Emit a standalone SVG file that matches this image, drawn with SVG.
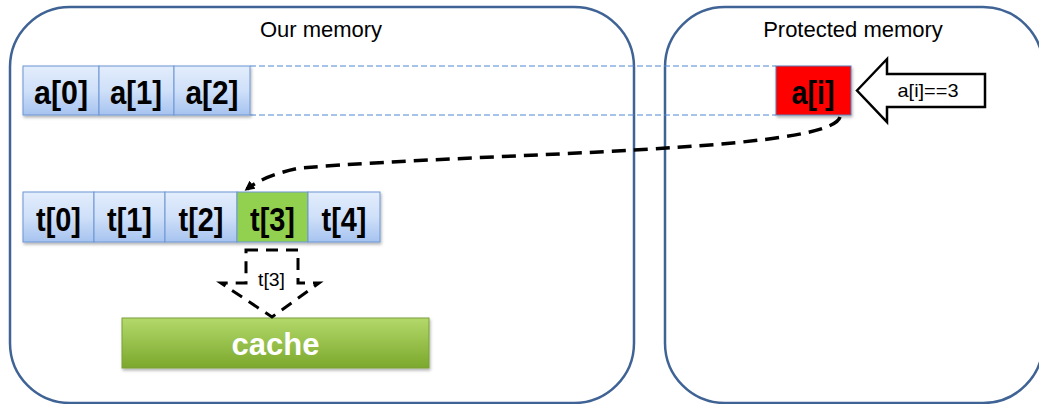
<svg xmlns="http://www.w3.org/2000/svg" width="1039" height="404" viewBox="0 0 1039 404">
<defs>
<linearGradient id="blue" x1="0" y1="0" x2="0" y2="1"><stop offset="0" stop-color="#e3edfc"/><stop offset="0.5" stop-color="#cfe0f9"/><stop offset="1" stop-color="#a6c3ef"/></linearGradient>
<linearGradient id="grn" x1="0" y1="0" x2="0" y2="1"><stop offset="0" stop-color="#b3d96b"/><stop offset="1" stop-color="#7ba82c"/></linearGradient>
<filter id="sh" x="-10%" y="-10%" width="120%" height="140%"><feDropShadow dx="1" dy="2" stdDeviation="1.5" flood-color="#000" flood-opacity="0.3"/></filter>
<marker id="ah" markerWidth="10" markerHeight="10" refX="7" refY="5" orient="auto" markerUnits="userSpaceOnUse"><path d="M0,0 L10,5 L0,10 z" fill="#000"/></marker>
</defs>
<style>
.region{fill:none;stroke:#3f6395;stroke-width:2.5}
.title{font-family:"Liberation Sans",Arial,sans-serif;font-size:22px;fill:#000;text-anchor:middle}
.cell{fill:url(#blue);stroke:#6d95d3;stroke-width:1}
.lbl{font-family:"Liberation Sans",Arial,sans-serif;font-weight:bold;font-size:33px;fill:#000;text-anchor:middle}
.small{font-family:"Liberation Sans",Arial,sans-serif;font-size:19px;fill:#000;text-anchor:middle}
.guide{stroke:#4f86d4;stroke-width:1;stroke-dasharray:6 3;fill:none}
</style>
<g id="our-memory">
<rect class="region" x="10" y="7" width="624" height="396" rx="60" ry="60"/>
<text class="title" x="321" y="37">Our memory</text>
</g>
<g id="protected-memory">
<rect class="region" x="665" y="7" width="378" height="396" rx="60" ry="60"/>
<text class="title" x="853" y="37">Protected memory</text>
</g>
<g id="guides">
<line class="guide" x1="250" y1="66" x2="776" y2="66"/>
<line class="guide" x1="250" y1="115" x2="776" y2="115"/>
</g>
<g id="array-a" filter="url(#sh)">
<rect class="cell" x="23" y="66" width="76" height="49"/>
<rect class="cell" x="99" y="66" width="75" height="49"/>
<rect class="cell" x="174" y="66" width="76" height="49"/>
</g>
<g id="array-a-labels">
<text class="lbl" x="61" y="104" textLength="54" lengthAdjust="spacingAndGlyphs">a[0]</text>
<text class="lbl" x="136" y="104" textLength="52" lengthAdjust="spacingAndGlyphs">a[1]</text>
<text class="lbl" x="212" y="104" textLength="53" lengthAdjust="spacingAndGlyphs">a[2]</text>
</g>
<g id="a-i">
<rect x="776" y="66" width="75" height="49" fill="#ff0000" stroke="#5b7fb8" stroke-width="1" filter="url(#sh)"/>
<text class="lbl" x="813" y="104" textLength="43" lengthAdjust="spacingAndGlyphs">a[i]</text>
</g>
<g id="value-arrow">
<polygon points="857,90.5 887,59 887,74 985,74 985,107 887,107 887,122" fill="#fff" stroke="#000" stroke-width="2.5" stroke-linejoin="miter"/>
<text class="small" x="928" y="97" textLength="61" lengthAdjust="spacingAndGlyphs">a[i]==3</text>
</g>
<g id="array-t" filter="url(#sh)">
<rect class="cell" x="23" y="192" width="71" height="50"/>
<rect class="cell" x="94" y="192" width="71" height="50"/>
<rect class="cell" x="165" y="192" width="72" height="50"/>
<rect x="237" y="192" width="71" height="50" fill="#92d050" stroke="#6d95d3" stroke-width="1"/>
<rect class="cell" x="308" y="192" width="72" height="50"/>
</g>
<g id="array-t-labels">
<text class="lbl" x="58.5" y="231" textLength="45" lengthAdjust="spacingAndGlyphs">t[0]</text>
<text class="lbl" x="129.5" y="231" textLength="45" lengthAdjust="spacingAndGlyphs">t[1]</text>
<text class="lbl" x="201" y="231" textLength="45" lengthAdjust="spacingAndGlyphs">t[2]</text>
<text class="lbl" x="272.5" y="231" textLength="45" lengthAdjust="spacingAndGlyphs">t[3]</text>
<text class="lbl" x="344" y="231" textLength="45" lengthAdjust="spacingAndGlyphs">t[4]</text>
</g>
<g id="cache">
<rect x="122" y="318" width="307" height="50" fill="url(#grn)" stroke="#7a9f3a" stroke-width="1" filter="url(#sh)"/>
<text x="275.5" y="355" font-family="Liberation Sans,Arial,sans-serif" font-weight="bold" font-size="31" fill="#fff" text-anchor="middle">cache</text>
</g>
<g id="connectors">
<path d="M840,117 C830,152 500,152 300,168 Q265,175 247,189" fill="none" stroke="#000" stroke-width="3.5" stroke-dasharray="14 8" marker-end="url(#ah)"/>
<polygon points="246,250 298,250 298,283 319,283 272,317 221,283 246,283" fill="none" stroke="#000" stroke-width="3" stroke-dasharray="12 8"/>
<text class="small" x="271.5" y="286" textLength="27" lengthAdjust="spacingAndGlyphs">t[3]</text>
</g>
</svg>
